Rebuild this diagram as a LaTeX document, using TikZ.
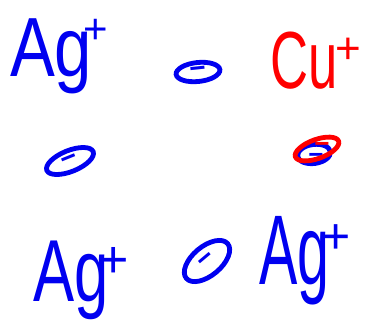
\documentclass[tikz,border=0pt]{standalone}
\usepackage{fontspec}
\setmainfont{Liberation Sans}
\usetikzlibrary{shapes.geometric}
\definecolor{inkblue}{RGB}{0,0,240}
\definecolor{inkred}{RGB}{255,0,0}
\tikzset{
  ion/.style={anchor=base west, inner sep=0pt, outer sep=0pt},
  electron/.style={ellipse, draw, line width=4.8pt, inner sep=0pt,
    font=\fontsize{28}{28}\selectfont\bfseries},
  minus/.style={inner sep=0pt, font=\fontsize{26}{26}\selectfont\bfseries},
}
\begin{document}
\begin{tikzpicture}[x=1pt,y=-1pt]
\useasboundingbox (0,0) rectangle (369,324);
% ions
\node[ion, text=inkblue] (ag1) at (10,76)
  {\scalebox{0.8}[1]{\fontsize{84}{84}\selectfont Ag}\hspace{-9pt}\raisebox{33pt}{\fontsize{42}{42}\selectfont +}};
\node[ion, text=inkred] (cu1) at (270,88)
  {\scalebox{0.65}[1]{\fontsize{81}{81}\selectfont Cu}\hspace{-2pt}\raisebox{25pt}{\fontsize{44}{44}\selectfont +}};
\node[ion, text=inkblue] (ag2) at (33,301)
  {\scalebox{0.7}[1]{\fontsize{88}{88}\selectfont Ag}\hspace{-10pt}\raisebox{24pt}{\fontsize{52}{52}\selectfont +}};
\node[ion, text=inkblue] (ag3) at (259,284)
  {\scalebox{0.58}[1]{\fontsize{99}{99}\selectfont Ag}\hspace{-8pt}\raisebox{31pt}{\fontsize{50}{50}\selectfont +}};
% electrons
\node[electron, draw=inkblue, text=inkblue, minimum width=44pt, minimum height=19pt, rotate=6] (e1) at (198,72) {−};
\node[electron, draw=inkblue, text=inkblue, minimum width=50pt, minimum height=21pt, rotate=22] (e2) at (70,161) {−};
\node[electron, draw=inkblue, text=inkblue, minimum width=54pt, minimum height=29pt, rotate=40] (e3) at (207,261) {−};
\node[electron, draw=inkblue, minimum width=33pt, minimum height=19pt, rotate=8] (e4) at (314,154) {};
\node[minus, text=inkblue] (m4) at (316,158) {−};
\node[electron, draw=inkred, minimum width=46pt, minimum height=19pt, rotate=20] (e5) at (317,149) {};
\node[minus, text=inkred] (m5) at (322,147) {−};
\end{tikzpicture}
\end{document}
